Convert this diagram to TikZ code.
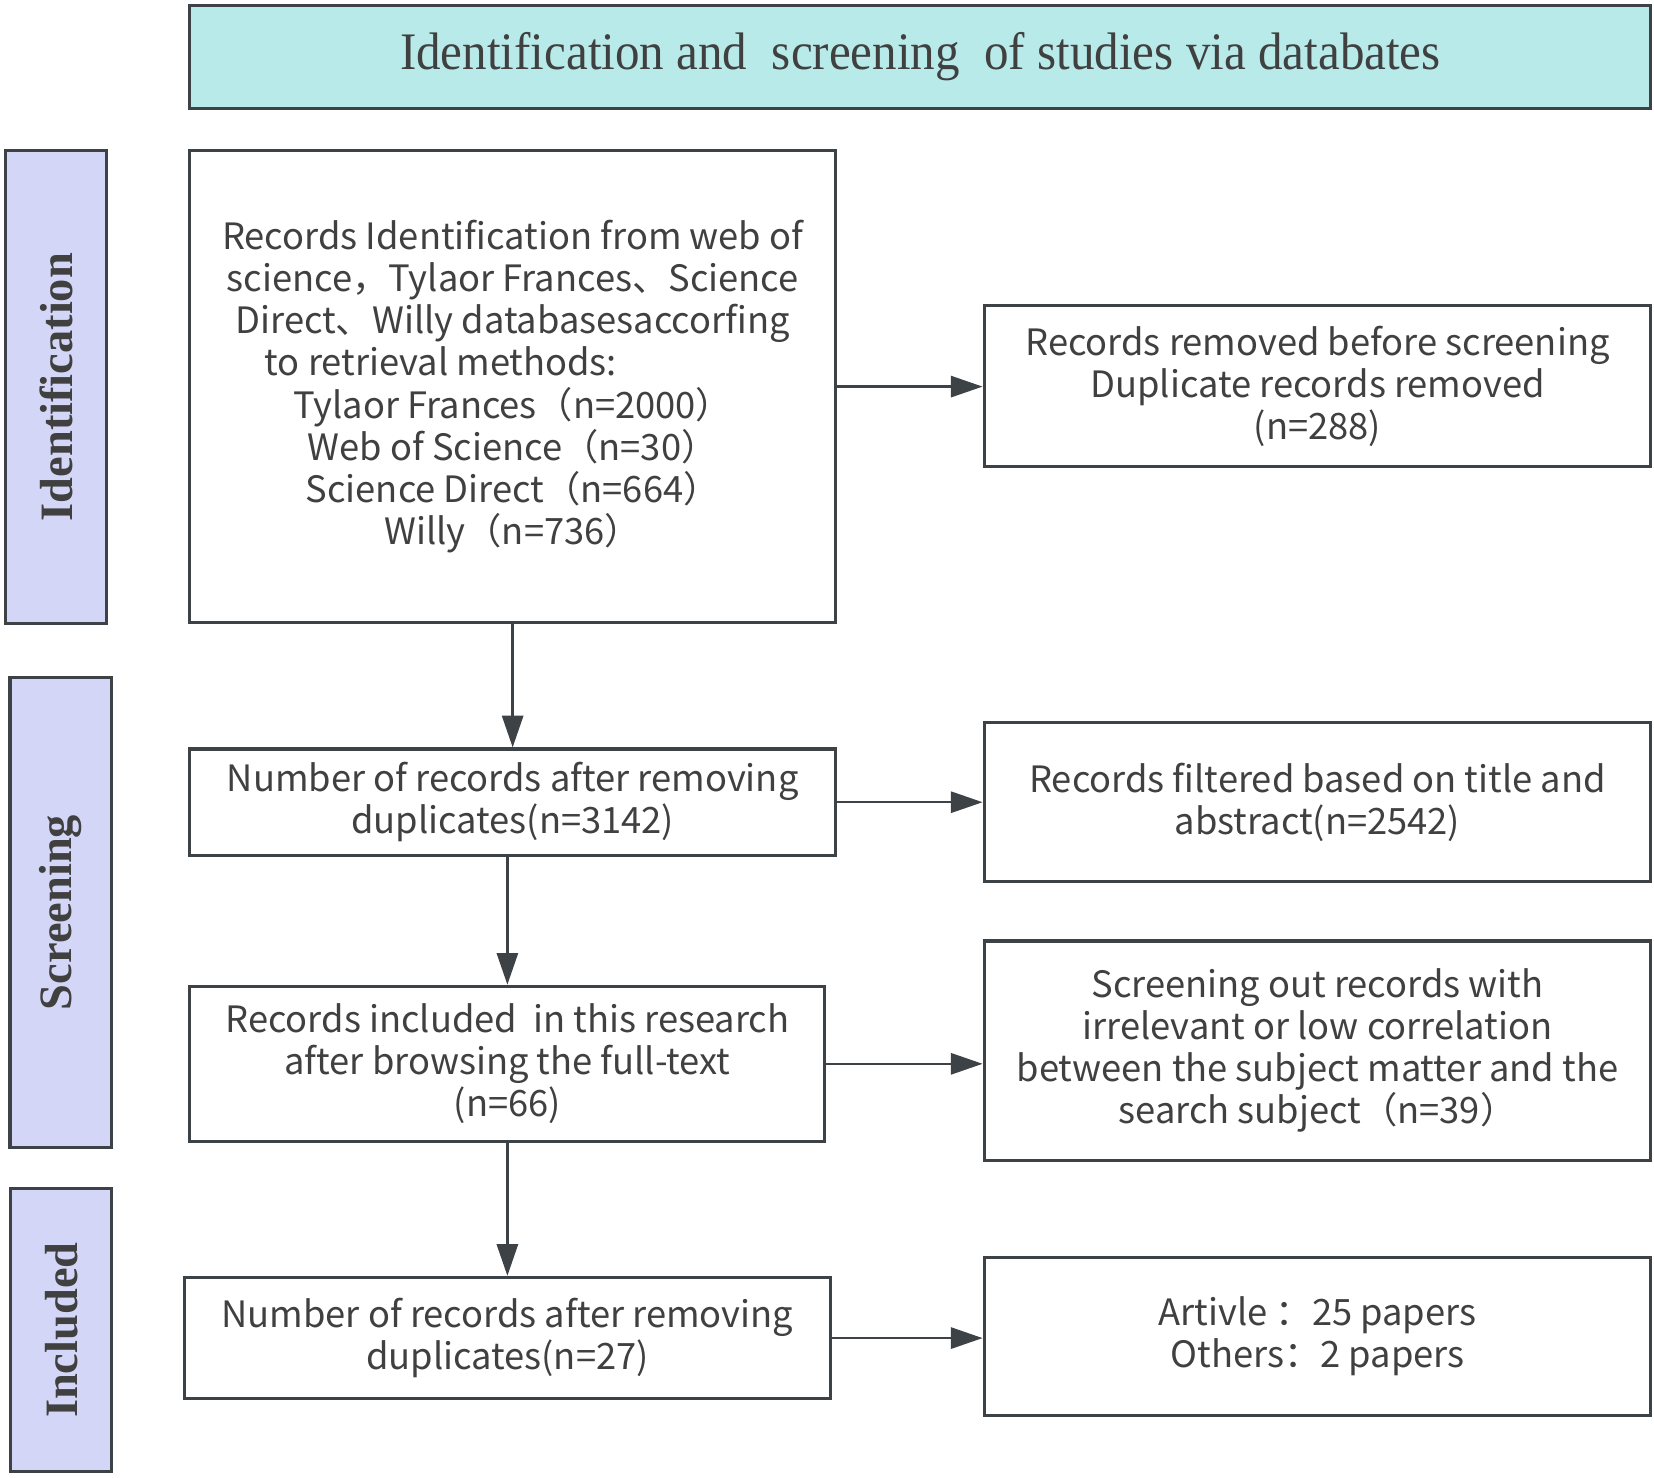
\documentclass[tikz,border=0pt]{standalone}
\usepackage{fontspec}
\setmainfont{Noto Sans CJK SC}
\newfontfamily\titlefont[FakeStretch=0.93]{Liberation Serif}
\newfontfamily\sidefont{Liberation Serif}
\usetikzlibrary{arrows.meta}
\definecolor{bord}{HTML}{3C4245}
\definecolor{txt}{HTML}{404040}
\definecolor{titlefill}{HTML}{B8EAEA}
\definecolor{sidefill}{HTML}{D3D6F7}
\begin{document}
\begin{tikzpicture}[x=0.5pt,y=-0.5pt,
  box/.style={draw=bord, line width=1.5pt, fill=white, text=txt, align=center,
    font=\fontsize{17.2}{20}\selectfont, inner sep=0pt},
  sidebox/.style={draw=bord, line width=1.5pt, fill=sidefill, text=txt, rotate=90,
    font=\sidefont\bfseries\fontsize{22}{24}\selectfont, inner sep=0pt, minimum height=48pt},
  arr/.style={draw=bord, line width=1.2pt, -{Triangle[length=15pt,width=10pt]}}]
\useasboundingbox (0,0) rectangle (1568,1401);
\node[box, fill=titlefill, minimum width=692.5pt, minimum height=49pt,
  font=\titlefont\fontsize{25}{28}\selectfont] (title) at (872.5,54)
  {Identification and\ \ screening\ \ of studies via databates};
\node[sidebox, minimum width=224pt] (s1) at (53,367) {Identification};
\node[sidebox, minimum width=223pt] (s2) at (57.5,865) {Screening};
\node[sidebox, minimum width=134pt] (s3) at (58,1261) {Included};
\node[box, minimum width=306pt, minimum height=223.5pt] (b1) at (486,366.5)
  {Records Identification from web of\\
   science，Tylaor Frances、Science\\
   Direct、Willy databasesaccorfing\\
   to retrieval methods:\makebox[68pt]{}\\
   Tylaor Frances（n=2000）\\
   Web of Science（n=30）\\
   Science Direct（n=664）\\
   Willy（n=736）};
\node[box, minimum width=316pt, minimum height=76pt] (r1) at (1249,366)
  {Records removed before screening\\
   Duplicate records removed\\
   (n=288)};
\node[box, minimum width=306pt, minimum height=50.5pt] (b2) at (486,760.5)
  {Number of records after removing\\
   duplicates(n=3142)};
\node[box, minimum width=316pt, minimum height=75.5pt] (r2) at (1249,760.5)
  {Records filtered based on title and\\
   abstract(n=2542)};
\node[box, minimum width=301pt, minimum height=73.5pt] (b3) at (481,1008.5)
  {Records included\ \ in this research\\
   after browsing the full-text\\
   (n=66)};
\node[box, minimum width=316pt, minimum height=104pt] (r3) at (1249,996)
  {Screening out records with\\
   irrelevant or low correlation\\
   between the subject matter and the\\
   search subject（n=39）};
\node[box, minimum width=306pt, minimum height=57.5pt] (b4) at (481,1268.5)
  {Number of records after removing\\
   duplicates(n=27)};
\node[box, minimum width=316pt, minimum height=75pt] (r4) at (1249,1267)
  {Artivle ：25 papers\\
   Others：2 papers};
\draw[arr] (b1.east) -- (r1.west |- b1.east);
\draw[arr] (b1.south) -- (b2.north);
\draw[arr] (b2.east) -- (r2.west |- b2.east);
\draw[arr] (b3.north |- b2.south) -- (b3.north);
\draw[arr] (b3.east) -- (r3.west |- b3.east);
\draw[arr] (b3.south) -- (b4.north);
\draw[arr] (b4.east) -- (r4.west |- b4.east);
\end{tikzpicture}
\end{document}
